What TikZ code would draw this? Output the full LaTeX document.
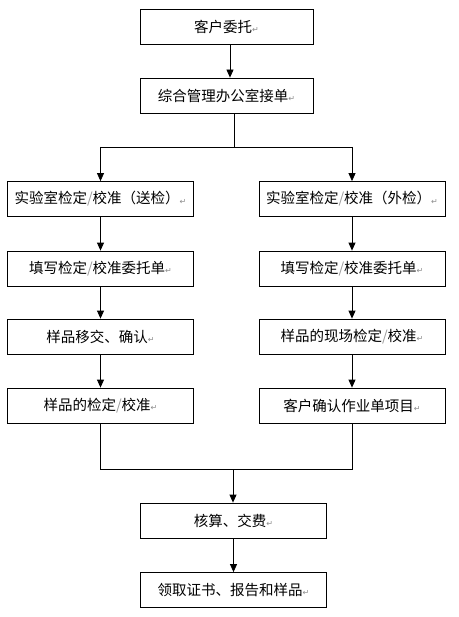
\documentclass[tikz,border=0pt]{standalone}
\usepackage{fontspec}
\setmainfont{Noto Sans CJK SC}
\newfontfamily\markfont{DejaVu Sans}
\usetikzlibrary{arrows.meta}
\newcommand{\pmark}{{\markfont\fontsize{8}{8}\selectfont\color{black!45}\raisebox{-0.5pt}{↵}}}
\newcommand{\slh}{{\color{black!40}/}}
\begin{document}
\begin{tikzpicture}[x=1pt, y=-1pt,
  every node/.style = {shape=rectangle, draw, line width=0.8pt,
    minimum height=35pt, inner sep=0pt, align=center,
    font=\fontsize{14.5}{16}\selectfont},
  wide/.style = {minimum width=186pt},
  top/.style = {minimum width=173pt},
  arr/.style = {line width=0.8pt, -{Triangle[length=8pt,width=7pt]}},
  line/.style = {line width=0.8pt}]
  \useasboundingbox (0,0) rectangle (458,617);
  \node[top] (entrust) at (226.5,26.5) {客户委托\pmark};
  \node[top] (office) at (226.5,95.5) {综合管理办公室接单\pmark};
  \node[wide] (labL) at (100.5,199) {实验室检定\slh 校准（送检）\pmark};
  \node[wide] (labR) at (352,199) {实验室检定\slh 校准（外检）\pmark};
  \node[wide] (formL) at (100.5,268.5) {填写检定\slh 校准委托单\pmark};
  \node[wide] (formR) at (352,268.5) {填写检定\slh 校准委托单\pmark};
  \node[wide] (handL) at (100.5,336.5) {样品移交、确认\pmark};
  \node[wide] (siteR) at (352,336.5) {样品的现场检定\slh 校准\pmark};
  \node[wide] (testL) at (100.5,405.5) {样品的检定\slh 校准\pmark};
  \node[wide] (confR) at (352,405.5) {客户确认作业单项目\pmark};
  \node[wide] (fee) at (233.5,520.5) {核算、交费\pmark};
  \node[wide] (fetch) at (233.5,590) {领取证书、报告和样品\pmark};
  \coordinate (split) at (234,147);
  \coordinate (merge) at (233,469);
  \draw[arr] ([xshift=3.5pt]entrust.south) -- ([xshift=3.5pt]office.north);
  \draw[line] (office.south -| split) -- (split);
  \draw[line] (labL.north |- split) -- (labR.north |- split);
  \draw[arr] (labL.north |- split) -- (labL.north);
  \draw[arr] (labR.north |- split) -- (labR.north);
  \foreach \a/\b in {labL/formL, formL/handL, handL/testL,
                     labR/formR, formR/siteR, siteR/confR, fee/fetch}
    \draw[arr] (\a.south) -- (\b.north);
  \draw[line] (testL.south) |- (confR.south |- merge) -- (confR.south);
  \draw[arr] (merge) -- (fee.north -| merge);
\end{tikzpicture}
\end{document}
